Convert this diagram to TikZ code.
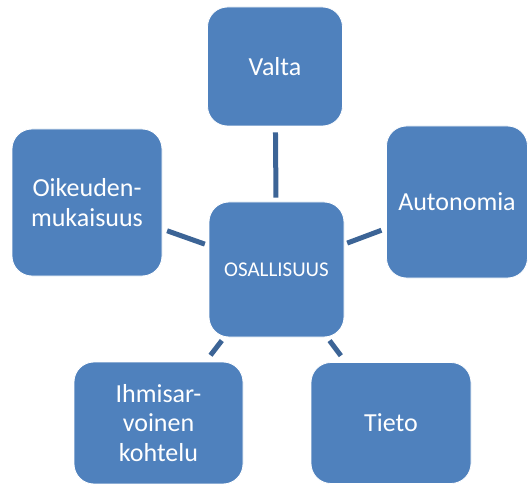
\documentclass[tikz,border=0pt]{standalone}
\usepackage{fontspec}
\setmainfont{Carlito}
\usetikzlibrary{positioning}
\definecolor{bfill}{HTML}{4F81BD}
\definecolor{bline}{HTML}{3C6496}

\begin{document}
\begin{tikzpicture}[x=1pt, y=-1pt,
  box/.style={rectangle, rounded corners=20pt, fill=bfill, draw=white, line width=0.8pt,
    text=white, align=center, inner sep=0pt, font=\fontsize{26}{29.5}\selectfont},
  conn/.style={bline, line width=5pt}]
\useasboundingbox (0,0) rectangle (528,484);
% centre
\node[box, minimum width=135pt, minimum height=135pt, font=\fontsize{21}{25}\selectfont]
  (osallisuus) at (276.5,269.5) {OSALLISUUS};
% outer boxes
\node[box, minimum width=135pt, minimum height=119pt] (valta) at (275,66.5) {Valta};
\node[box, minimum width=141pt, minimum height=152pt] (autonomia) at (457,202) {Autonomia};
\node[box, minimum width=160pt, minimum height=121pt] (tieto) at (391,423) {Tieto};
\node[box, minimum width=169pt, minimum height=122pt] (ihmisarvo) at (158.5,423)
  {Ihmisar-\\voinen\\kohtelu};
\node[box, minimum width=150pt, minimum height=147pt] (oikeus) at (87,202.5)
  {Oikeuden-\\mukaisuus};
% connectors
\draw[conn, shorten <=4pt, shorten >=6pt] (osallisuus) -- (valta);
\draw[conn, shorten <=3pt, shorten >=5pt] (osallisuus) -- (autonomia);
\draw[conn, shorten <=4pt, shorten >=8pt] (osallisuus) -- (tieto);
\draw[conn, shorten <=4pt, shorten >=8pt] (osallisuus) -- (ihmisarvo);
\draw[conn, shorten <=4pt, shorten >=5pt] (osallisuus) -- (oikeus);
\end{tikzpicture}
\end{document}
